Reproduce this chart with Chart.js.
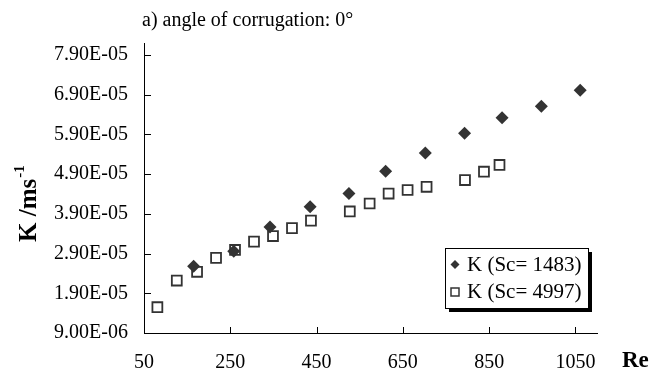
<!DOCTYPE html>
<html>
<head>
<meta charset="utf-8">
<script src="https://cdn.jsdelivr.net/npm/chart.js@4/dist/chart.umd.min.js"></script>
<style>
  html, body { margin: 0; padding: 0; background: #fff; }
  #wrap { width: 652px; height: 375px; }
</style>
</head>
<body>
<div id="wrap"><canvas id="chart" width="652" height="375"></canvas></div>
<script>
// Re values and mass transfer coefficients
const reSc1483 = [165, 258, 342, 435, 525, 610, 702, 793, 880, 971, 1061];
const kSc1483 = [2.58e-5, 2.96e-5, 3.57e-5, 4.08e-5, 4.41e-5, 4.97e-5, 5.43e-5, 5.93e-5, 6.32e-5, 6.61e-5, 7.01e-5];

const reSc4997 = [81, 126, 173, 217, 261, 305, 349, 393, 437, 527, 573, 617, 661, 705, 794, 838, 874];
const kSc4997 = [1.55e-5, 2.22e-5, 2.44e-5, 2.79e-5, 2.99e-5, 3.20e-5, 3.34e-5, 3.54e-5, 3.73e-5, 3.96e-5, 4.16e-5, 4.41e-5, 4.50e-5, 4.58e-5, 4.75e-5, 4.96e-5, 5.13e-5];

const seriesLabels = ['K (Sc= 1483)', 'K (Sc= 4997)'];

const xTickValues = [50, 250, 450, 650, 850, 1050];
const yTickValues = [9.0e-6, 1.9e-5, 2.9e-5, 3.9e-5, 4.9e-5, 5.9e-5, 6.9e-5, 7.9e-5];
const yTickLabels = ['9.00E-06', '1.90E-05', '2.90E-05', '3.90E-05', '4.90E-05', '5.90E-05', '6.90E-05', '7.90E-05'];

const titleText = 'a) angle of corrugation: 0°';
const serif = '"Liberation Serif", "Times New Roman", serif';
const ink = '#333';

function toPoints(xs, ys) {
  return xs.map((x, i) => ({ x, y: ys[i] }));
}

// inside tick marks, titles and the boxed legend
const decorPlugin = {
  id: 'decor',
  afterDraw(chart) {
    const ctx = chart.ctx;
    const xs = chart.scales.x;
    const ys = chart.scales.y;
    const area = chart.chartArea;
    ctx.save();

    ctx.strokeStyle = '#000';
    ctx.lineWidth = 1;
    ctx.beginPath();
    xTickValues.forEach(v => {
      const px = Math.round(xs.getPixelForValue(v)) + 0.5;
      ctx.moveTo(px, area.bottom);
      ctx.lineTo(px, area.bottom - 6);
    });
    yTickValues.forEach(v => {
      const py = Math.round(ys.getPixelForValue(v)) + 0.5;
      ctx.moveTo(area.left, py);
      ctx.lineTo(area.left + 7, py);
    });
    ctx.stroke();

    // title
    ctx.fillStyle = '#000';
    ctx.font = '20px ' + serif;
    ctx.textBaseline = 'alphabetic';
    ctx.textAlign = 'left';
    ctx.fillText(titleText, area.left - 2, 26);

    // x axis title
    ctx.font = 'bold 23px ' + serif;
    ctx.fillText('Re', 622, 367);

    // y axis title with superscript
    ctx.save();
    ctx.translate(36, 242);
    ctx.rotate(-Math.PI / 2);
    ctx.font = 'bold 25px ' + serif;
    ctx.fillText('K /ms', 0, 0);
    const w = ctx.measureText('K /ms').width;
    ctx.font = 'bold 15px ' + serif;
    ctx.fillText('-1', w + 1, -12);
    ctx.restore();

    // legend box
    const lx = 445, ly = 248, lw = 143, lh = 60;
    ctx.fillStyle = '#000';
    ctx.fillRect(lx + 4, ly + 4, lw, lh);
    ctx.fillStyle = '#fff';
    ctx.fillRect(lx, ly, lw, lh);
    ctx.strokeStyle = '#000';
    ctx.strokeRect(lx + 0.5, ly + 0.5, lw, lh);

    ctx.font = '21px ' + serif;
    ctx.textBaseline = 'middle';
    // diamond entry
    ctx.fillStyle = ink;
    ctx.beginPath();
    ctx.moveTo(455, 260); ctx.lineTo(459.5, 264.5); ctx.lineTo(455, 269); ctx.lineTo(450.5, 264.5);
    ctx.closePath();
    ctx.fill();
    ctx.fillStyle = '#000';
    ctx.fillText(seriesLabels[0], 467, 265);
    // square entry
    ctx.strokeStyle = ink;
    ctx.lineWidth = 1.5;
    ctx.strokeRect(451, 288, 8, 8);
    ctx.fillText(seriesLabels[1], 467, 292);

    ctx.restore();
  }
};

new Chart(document.getElementById('chart'), {
  type: 'scatter',
  data: {
    datasets: [
      {
        label: seriesLabels[0],
        data: toPoints(reSc1483, kSc1483),
        pointStyle: 'rectRot',
        pointRadius: 6.5,
        pointHoverRadius: 6.5,
        backgroundColor: ink,
        borderColor: ink,
        borderWidth: 0
      },
      {
        label: seriesLabels[1],
        data: toPoints(reSc4997, kSc4997),
        pointStyle: 'rect',
        pointRadius: 7,
        pointHoverRadius: 7,
        backgroundColor: '#fff',
        borderColor: ink,
        borderWidth: 1.8
      }
    ]
  },
  options: {
    responsive: false,
    animation: false,
    devicePixelRatio: 1,
    layout: { padding: { top: 43, right: 55, left: 0, bottom: 0 } },
    plugins: {
      legend: { display: false },
      tooltip: { enabled: false },
      title: { display: false }
    },
    scales: {
      x: {
        type: 'linear',
        min: 50,
        max: 1100,
        afterBuildTicks: (scale) => { scale.ticks = xTickValues.map(v => ({ value: v })); },
        afterFit: (scale) => { scale.height = 42; },
        grid: { drawOnChartArea: false, drawTicks: false },
        border: { display: true, color: '#000', width: 1 },
        ticks: {
          padding: 18,
          color: '#000',
          font: { family: serif, size: 20 },
          maxRotation: 0,
          callback: (v) => String(v)
        }
      },
      y: {
        type: 'linear',
        min: 9.0e-6,
        max: 8.2e-5,
        afterBuildTicks: (scale) => { scale.ticks = yTickValues.map(v => ({ value: v })); },
        afterFit: (scale) => { scale.width = 144; },
        grid: { drawOnChartArea: false, drawTicks: false },
        border: { display: true, color: '#000', width: 1 },
        ticks: {
          padding: 16,
          color: '#000',
          font: { family: serif, size: 20 },
          callback: (v, i) => yTickLabels[i]
        }
      }
    }
  },
  plugins: [decorPlugin]
});
</script>
</body>
</html>
